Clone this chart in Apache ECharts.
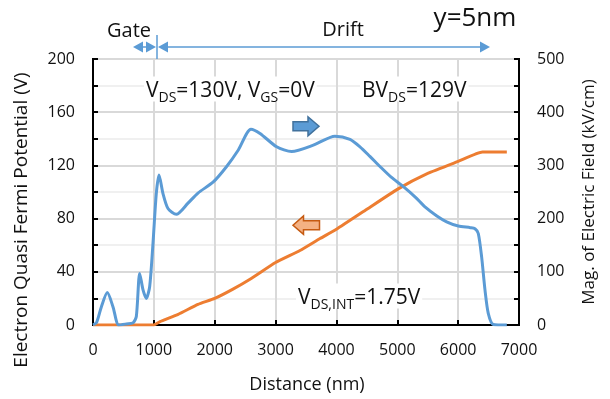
<!DOCTYPE html>
<html>
<head>
<meta charset="utf-8">
<script src="https://cdn.jsdelivr.net/npm/echarts@6/dist/echarts.min.js"></script>
<style>
  html, body { margin: 0; padding: 0; background: #fff; }
  #chart { width: 610px; height: 399px; }
</style>
</head>
<body>
<div id="chart"></div>
<script>
// Magnitude of the electric field along the device (right axis, kV/cm)
const fieldDistance = [0, 60, 137, 235, 329, 422, 550, 657, 712, 767, 822, 876, 931, 986, 1040, 1085, 1150, 1232, 1369, 1561, 1725, 1977, 2196, 2388, 2596, 2744, 3018, 3264, 3620, 3976, 4223, 4387, 4550, 4716, 4900, 5100, 5300, 5455, 5650, 5811, 6003, 6200, 6277, 6331, 6386, 6441, 6495, 6578, 6800];
const fieldKVcm     = [0, 5, 34, 61, 34, 0, 2, 4, 16, 97, 66, 50, 72, 154, 247, 282, 247, 219, 208, 229, 248, 269, 298, 329, 368, 360, 335, 326, 338, 355, 349, 335, 317, 298, 278, 260, 240, 222, 205, 194, 186, 183, 181, 172, 128, 66, 22, 1, 0];

// Electron quasi Fermi potential along the device (left axis, V)
const potentialDistance = [0, 1000, 1100, 1400, 1725, 2000, 2300, 2600, 3000, 3400, 3730, 4000, 4500, 5000, 5500, 6000, 6400, 6800];
const potentialV        = [0, 0, 2.5, 8, 15.5, 20, 27, 35, 47, 56, 65, 72, 87, 102, 114, 123, 130, 130];

// Axis ranges
const distanceTicks = [0, 1000, 2000, 3000, 4000, 5000, 6000, 7000];
const potentialTicks = [0, 40, 80, 120, 160, 200];
const fieldTicks = [0, 100, 200, 300, 400, 500];

const FONT = '"Open Sans", "Noto Sans", sans-serif';
const TXT = '#111';
const BLUE = '#5b9bd5';
const ORANGE = '#ed7d31';

const zip = (xs, ys) => xs.map((x, i) => [x, ys[i]]);

const chart = echarts.init(document.getElementById('chart'), null, { renderer: 'canvas' });

const subRich = {
  m: { fontSize: 21, fontFamily: FONT, fill: TXT, verticalAlign: 'bottom', lineHeight: 25 },
  s: { fontSize: 14, fontFamily: FONT, fill: TXT, verticalAlign: 'bottom', lineHeight: 16, padding: [0, 0, -4, 0] }
};

// Filled block arrow between x0 (tail) and x1 (tip)
function blockArrow(x0, x1, yc, headStart, bodyHalf, headHalf, fill, stroke) {
  return {
    type: 'polygon',
    shape: {
      points: [
        [x0, yc - bodyHalf], [headStart, yc - bodyHalf], [headStart, yc - headHalf],
        [x1, yc], [headStart, yc + headHalf], [headStart, yc + bodyHalf], [x0, yc + bodyHalf]
      ]
    },
    style: { fill: fill, stroke: stroke, lineWidth: 1.5 },
    z: 20
  };
}

function arrowHead(tipX, y, dir) {
  return {
    type: 'polygon',
    shape: { points: [[tipX, y], [tipX - dir * 10, y - 5.5], [tipX - dir * 10, y + 5.5]] },
    style: { fill: BLUE },
    z: 20
  };
}

// Text box with a white fill, placed over the plot
function noteBox(x, y, text) {
  return {
    type: 'text', x: x, y: y, z: 15,
    style: {
      text: text, rich: subRich, align: 'left', verticalAlign: 'middle',
      backgroundColor: '#fff', padding: [0, 2, 0, 2]
    }
  };
}

const option = {
  animation: false,
  backgroundColor: '#fff',
  grid: {
    left: 93, right: 91, top: 59, bottom: 74,
    show: true, borderColor: '#000', borderWidth: 2, backgroundColor: 'transparent'
  },
  xAxis: {
    type: 'value',
    min: distanceTicks[0], max: distanceTicks[distanceTicks.length - 1], interval: 1000,
    axisLine: { show: true, onZero: false, lineStyle: { color: '#000', width: 2 } },
    axisTick: { show: true, inside: true, length: 5, lineStyle: { color: '#000', width: 2 } },
    axisLabel: { color: TXT, fontFamily: FONT, fontSize: 16, margin: 17, formatter: v => String(v) },
    splitLine: { show: true, lineStyle: { color: '#d9d9d9', width: 2 } }
  },
  yAxis: [
    {
      type: 'value',
      min: potentialTicks[0], max: potentialTicks[potentialTicks.length - 1], interval: 40,
      axisLine: { show: true, lineStyle: { color: '#000', width: 2 } },
      axisTick: { show: true, inside: true, length: 5, lineStyle: { color: '#000', width: 2 } },
      minorTick: { show: true, splitNumber: 2, length: 5, lineStyle: { color: '#000', width: 2 } },
      axisLabel: { color: TXT, fontFamily: FONT, fontSize: 16, margin: 18 },
      splitLine: { show: true, lineStyle: { color: '#d9d9d9', width: 2 } },
      minorSplitLine: { show: true, lineStyle: { color: '#f0f0f0', width: 2 } }
    },
    {
      type: 'value',
      min: fieldTicks[0], max: fieldTicks[fieldTicks.length - 1], interval: 100,
      position: 'right',
      axisLine: { show: true, lineStyle: { color: '#000', width: 2 } },
      axisTick: { show: true, inside: true, length: 5, lineStyle: { color: '#000', width: 2 } },
      minorTick: { show: true, splitNumber: 2, length: 5, lineStyle: { color: '#000', width: 2 } },
      axisLabel: { color: TXT, fontFamily: FONT, fontSize: 16, margin: 18 },
      splitLine: { show: false }
    }
  ],
  series: [
    {
      name: 'Electron Quasi Fermi Potential',
      type: 'line',
      yAxisIndex: 0,
      data: zip(potentialDistance, potentialV),
      smooth: 0.15,
      showSymbol: false,
      lineStyle: { color: ORANGE, width: 3 },
      z: 3
    },
    {
      name: 'Mag. of Electric Field',
      type: 'line',
      yAxisIndex: 1,
      data: zip(fieldDistance, fieldKVcm),
      smooth: 0.25,
      showSymbol: false,
      lineStyle: { color: BLUE, width: 3 },
      z: 4
    }
  ],
  graphic: [
    // axis titles
    {
      type: 'text', x: 22, y: 220, rotation: Math.PI / 2,
      style: { text: 'Electron Quasi Fermi Potential (V)', font: '19px ' + FONT, fill: TXT, align: 'center', verticalAlign: 'middle' }
    },
    {
      type: 'text', x: 589, y: 192, rotation: Math.PI / 2,
      style: { text: 'Mag. of Electric Field (kV/cm)', font: '17px ' + FONT, fill: TXT, align: 'center', verticalAlign: 'middle' }
    },
    {
      type: 'text', x: 307, y: 385,
      style: { text: 'Distance (nm)', font: '18px ' + FONT, fill: TXT, align: 'center', verticalAlign: 'middle' }
    },
    // region labels above the plot
    {
      type: 'text', x: 129, y: 31,
      style: { text: 'Gate', font: '20px ' + FONT, fill: TXT, align: 'center', verticalAlign: 'middle' }
    },
    {
      type: 'text', x: 343, y: 30,
      style: { text: 'Drift', font: '20px ' + FONT, fill: TXT, align: 'center', verticalAlign: 'middle' }
    },
    {
      type: 'text', x: 475, y: 19,
      style: { text: 'y=5nm', font: '26px ' + FONT, fill: TXT, align: 'center', verticalAlign: 'middle' }
    },
    // gate / drift dimension arrows
    { type: 'line', shape: { x1: 157, y1: 35, x2: 157, y2: 59 }, style: { stroke: BLUE, lineWidth: 1.5 }, z: 20 },
    { type: 'line', shape: { x1: 136, y1: 47, x2: 153, y2: 47 }, style: { stroke: BLUE, lineWidth: 1.5 }, z: 20 },
    arrowHead(133, 47, -1),
    arrowHead(156, 47, 1),
    { type: 'line', shape: { x1: 161, y1: 47, x2: 487, y2: 47 }, style: { stroke: BLUE, lineWidth: 1.5 }, z: 20 },
    arrowHead(158, 47, -1),
    arrowHead(490, 47, 1),
    // annotations
    noteBox(144, 89, '{m|V}{s|DS}{m|=130V, V}{s|GS}{m|=0V}'),
    noteBox(360, 89, '{m|BV}{s|DS}{m|=129V}'),
    noteBox(296, 296, '{m|V}{s|DS,INT}{m|=1.75V}'),
    // direction markers for the two curves
    blockArrow(293, 319, 126.3, 308, 4.5, 9.5, BLUE, '#41719c'),
    blockArrow(319.5, 293, 225.2, 303.5, 4.5, 9.2, '#f4b183', '#c55a11')
  ]
};

chart.setOption(option);
</script>
</body>
</html>
